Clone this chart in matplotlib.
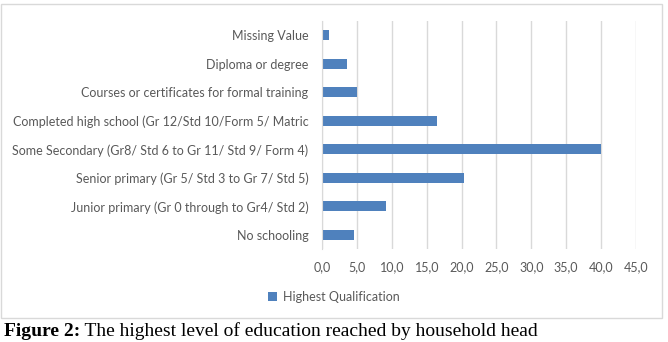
import matplotlib.pyplot as plt
from matplotlib.patches import Rectangle

categories = [
    "No schooling",
    "Junior primary (Gr 0 through to Gr4/ Std 2)",
    "Senior primary (Gr 5/ Std 3 to Gr 7/ Std 5)",
    "Some Secondary (Gr8/ Std 6 to Gr 11/ Std 9/ Form 4)",
    "Completed high school (Gr 12/Std 10/Form 5/ Matric",
    "Courses or certificates for formal training",
    "Diploma or degree",
    "Missing Value",
]
values = [4.6, 9.2, 20.4, 40.0, 16.4, 5.0, 3.6, 1.0]
xticks = [0, 5, 10, 15, 20, 25, 30, 35, 40, 45]
series_name = "Highest Qualification"

W, H = 668, 342
plt.rcParams['font.family'] = ['Lato', 'DejaVu Sans']
fig = plt.figure(figsize=(W / 100, H / 100), dpi=100)

# plot area placed in pixel terms
left, right, top, bottom = 322.3, 635.7, 21, 249
ax = fig.add_axes([left / W, 1 - bottom / H, (right - left) / W, (bottom - top) / H])

ypos = range(len(categories))
ax.barh(ypos, values, height=0.36, color="#4f81bd", zorder=3, label=series_name)
ax.set_xlim(0, 45)
ax.set_ylim(-0.5, len(categories) - 0.5)
ax.set_xticks(xticks)
ax.set_xticklabels([("%.1f" % t).replace(".", ",") for t in xticks])
ax.set_yticks(list(ypos))
ax.set_yticklabels(categories)
ax.tick_params(axis="both", length=0, labelsize=9, labelcolor="#595959")
ax.tick_params(axis="y", pad=10)
ax.tick_params(axis="x", pad=9)
ax.grid(axis="x", color="#d9d9d9", linewidth=1, zorder=0)
for s in ["top", "right", "bottom"]:
    ax.spines[s].set_visible(False)
ax.spines["left"].set_color("#d9d9d9")
ax.spines["left"].set_zorder(4)

fig.legend(loc="center", bbox_to_anchor=(0.5, 1 - 297 / H), frameon=False,
           fontsize=9, labelcolor="#595959", handlelength=0.7, handleheight=0.7,
           handletextpad=0.5)

# chart border
fig.patches.append(Rectangle((1 / W, 1 - 318 / H), 660.5 / W, 314 / H,
                             transform=fig.transFigure, fill=False,
                             edgecolor="#d9d9d9", linewidth=1))

# caption
t1 = fig.text(4 / W, 1 - 336 / H, "Figure 2:", fontsize=14, fontweight="bold",
              family="Liberation Serif")
fig.add_artist(plt.Annotation(" The highest level of education reached by household head",
                              xy=(1, 0), xycoords=t1, va="bottom", fontsize=14,
                              family="Liberation Serif"))

fig.savefig("out.png", dpi=100)
